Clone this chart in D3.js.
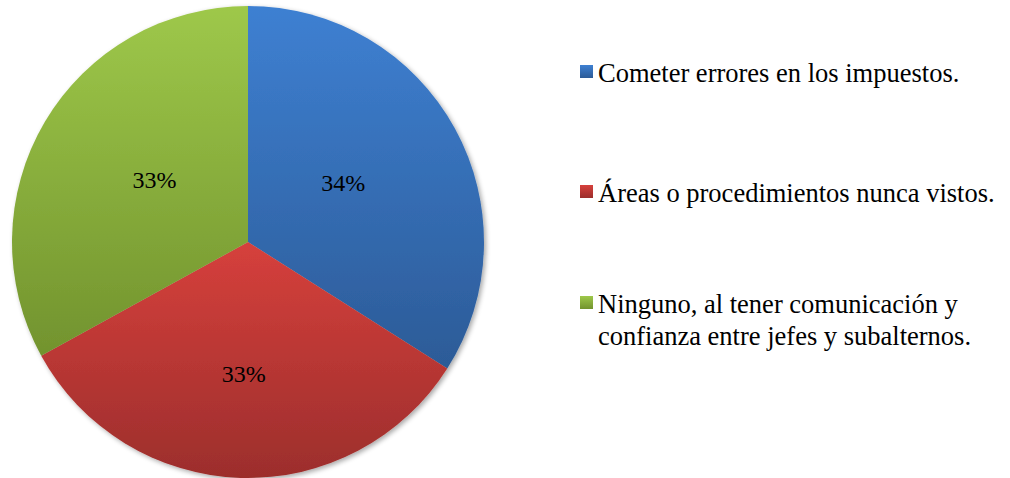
<!DOCTYPE html>
<html>
<head>
<meta charset="utf-8">
<script src="https://cdn.jsdelivr.net/npm/d3@7"></script>
<style>
  html, body { margin: 0; padding: 0; background: #ffffff; }
  svg { display: block; }
</style>
</head>
<body>
<svg id="chart" width="1010" height="478"></svg>
<script>
// Survey answers and their shares (percent)
const categories = [
  "Cometer errores en los impuestos.",
  "Áreas o procedimientos nunca vistos.",
  "Ninguno, al tener comunicación y confianza entre jefes y subalternos."
];
const values = [34, 33, 33];
const valueLabels = ["34%", "33%", "33%"];
// Legend text broken into lines
const legendLines = [
  ["Cometer errores en los impuestos."],
  ["Áreas o procedimientos nunca vistos."],
  ["Ninguno, al tener comunicación y", "confianza entre jefes y subalternos."]
];
// Slice gradient stops: light top, dark bottom
const colorTop = ["#3e80d2", "#d6403c", "#9ec84a"];
const colorBottom = ["#2c5b97", "#9c2e2c", "#72932e"];

const FONT = "Liberation Serif";
const svg = d3.select("#chart");
const cx = 248, cy = 242, r = 236;

const defs = svg.append("defs");
categories.forEach((c, i) => {
  const g = defs.append("linearGradient")
    .attr("id", "grad" + i)
    .attr("x1", 0).attr("y1", 0).attr("x2", 0).attr("y2", 1);
  g.append("stop").attr("offset", "0%").attr("stop-color", colorTop[i]);
  g.append("stop").attr("offset", "100%").attr("stop-color", colorBottom[i]);
});
const shadow = defs.append("filter").attr("id", "shadow")
  .attr("x", "-10%").attr("y", "-10%").attr("width", "120%").attr("height", "120%");
shadow.append("feGaussianBlur").attr("in", "SourceAlpha").attr("stdDeviation", 2.5);
shadow.append("feOffset").attr("dx", 2).attr("dy", 2).attr("result", "blur");
shadow.append("feComponentTransfer").append("feFuncA").attr("type", "linear").attr("slope", 0.35);
const merge = shadow.append("feMerge");
merge.append("feMergeNode");
merge.append("feMergeNode").attr("in", "SourceGraphic");

const pie = d3.pie().sort(null).value(d => d);
const arcs = pie(values);
const arc = d3.arc().innerRadius(0).outerRadius(r);

const g = svg.append("g").attr("transform", `translate(${cx},${cy})`);
const pieG = g.append("g").attr("filter", "url(#shadow)");
pieG.selectAll("path")
  .data(arcs)
  .join("path")
  .attr("d", arc)
  .attr("fill", (d, i) => `url(#grad${i})`);

// Percent labels inside the slices: upper slices sit a little higher,
// the bottom slice label a bit further out
const labelPos = d => {
  const a = (d.startAngle + d.endAngle) / 2;
  const c = -Math.cos(a);
  const bottom = c > 0.9;
  const rr = r * (bottom ? 0.56 : 0.46);
  return [Math.sin(a) * rr, c * rr - (bottom ? 0 : 7)];
};
g.selectAll("text.pct")
  .data(arcs)
  .join("text")
  .attr("class", "pct")
  .attr("x", d => labelPos(d)[0])
  .attr("y", d => labelPos(d)[1])
  .attr("text-anchor", "middle")
  .attr("dy", "0.35em")
  .style("font-family", FONT)
  .attr("font-size", 24)
  .attr("fill", "#000")
  .text((d, i) => valueLabels[i]);

// Legend
const legendY = [72, 192, 303];
const legend = svg.append("g");
legendLines.forEach((lines, i) => {
  const item = legend.append("g").attr("transform", `translate(580,${legendY[i]})`);
  item.append("rect")
    .attr("x", 0).attr("y", -7).attr("width", 13).attr("height", 13)
    .attr("fill", `url(#grad${i})`);
  const t = item.append("text")
    .style("font-family", FONT)
    .attr("font-size", 26.5)
    .attr("fill", "#000");
  lines.forEach((ln, j) => {
    t.append("tspan").attr("x", 18).attr("y", 10 + j * 32).text(ln);
  });
});
</script>
</body>
</html>
